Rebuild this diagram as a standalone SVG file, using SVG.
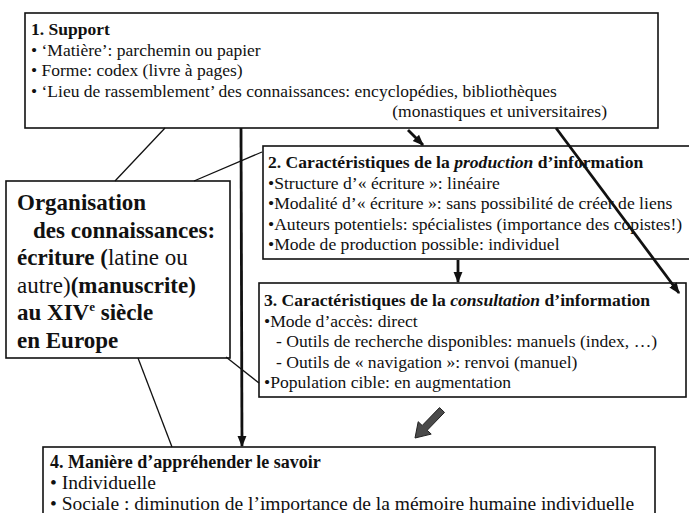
<svg xmlns="http://www.w3.org/2000/svg" width="689" height="513" viewBox="0 0 689 513">
<defs>
<style>
.box{fill:#fff;stroke:#111;stroke-width:1.6}
.t{font-family:"Liberation Serif","Times New Roman",serif;fill:#111}
.s17{font-size:17.5px}
.s16{font-size:17.6px}
.s18{font-size:19.5px}
.big{font-size:23px}
.b{font-weight:bold}
.n{font-weight:normal}
.thin{stroke:#111;stroke-width:1.3;fill:none}
.thick{stroke:#111;stroke-width:2.8;fill:none}
</style>
<marker id="ah" viewBox="0 0 10 10" refX="9" refY="5" markerWidth="4" markerHeight="4" orient="auto" markerUnits="strokeWidth">
<path d="M0,1 L10,5 L0,9 z" fill="#111"/>
</marker>
</defs>
<rect width="689" height="513" fill="#fff"/>

<g id="node1">
<rect class="box" x="25" y="13" width="633" height="115"/>
<text class="t s17 b" x="31" y="35">1. Support</text>
<text class="t s17" x="31" y="55.5">• ‘Matière’: parchemin ou papier</text>
<text class="t s17" x="31" y="76">•  Forme: codex (livre à pages)</text>
<text class="t s17" x="31" y="96.5">• ‘Lieu de rassemblement’ des connaissances: encyclopédies, bibliothèques</text>
<text class="t s17" x="607" y="117" text-anchor="end">(monastiques et universitaires)</text>
</g>

<g id="node-left">
<rect class="box" x="6" y="181" width="224" height="177"/>
<text class="t big b" x="17" y="210">Organisation</text>
<text class="t big b" x="33" y="237.5">des connaissances:</text>
<text class="t big b" x="17" y="265">écriture (<tspan class="n">latine ou</tspan></text>
<text class="t big" x="17" y="292.5">autre)<tspan class="b">(manuscrite)</tspan></text>
<text class="t big b" x="17" y="320">au XIV<tspan font-size="13" dy="-9">e</tspan><tspan dy="9"> siècle</tspan></text>
<text class="t big b" x="17" y="347.5">en Europe</text>
</g>

<g id="node2">
<rect class="box" x="263" y="146" width="430" height="113"/>
<text class="t s16 b" x="268" y="168">2. Caractéristiques de la <tspan font-style="italic">production</tspan> d’information</text>
<text class="t s16" x="268" y="188.5">•Structure d’« écriture »: linéaire</text>
<text class="t s16" x="268" y="209">•Modalité d’« écriture »: sans possibilité de créer de liens</text>
<text class="t s16" x="268" y="229.5">•Auteurs potentiels: spécialistes (importance des copistes!)</text>
<text class="t s16" x="268" y="250">•Mode de production possible: individuel</text>
</g>

<g id="node3">
<rect class="box" x="259" y="283" width="427" height="114"/>
<text class="t s16 b" x="264" y="306">3. Caractéristiques de la <tspan font-style="italic">consultation</tspan> d’information</text>
<text class="t s16" x="264" y="326.5">•Mode d’accès: direct</text>
<text class="t s16" x="276" y="347">- Outils de recherche disponibles: manuels (index, …)</text>
<text class="t s16" x="276" y="367.5">- Outils de « navigation »: renvoi (manuel)</text>
<text class="t s16" x="264" y="388">•Population cible: en augmentation</text>
</g>

<g id="node4">
<rect class="box" x="43" y="447" width="612" height="80"/>
<text class="t b" font-size="18" x="50" y="468">4. Manière d’appréhender le savoir</text>
<text class="t s18" x="50" y="489">• Individuelle</text>
<text class="t s18" x="50" y="510">• Sociale : diminution de l’importance de la mémoire humaine individuelle</text>
</g>

<g id="connectors">
<line class="thin" x1="165" y1="128" x2="115" y2="181"/>
<line class="thin" x1="194" y1="181" x2="262" y2="152"/>
<line class="thin" x1="138" y1="358" x2="172" y2="447"/>
<line class="thin" x1="226" y1="357" x2="259" y2="383"/>
<line class="thick" x1="241" y1="128" x2="242" y2="446" marker-end="url(#ah)"/>
<line class="thick" x1="408" y1="130" x2="423" y2="145" marker-end="url(#ah)"/>
<line class="thick" x1="458" y1="260" x2="458" y2="282" marker-end="url(#ah)"/>
<line class="thick" x1="556" y1="128" x2="679" y2="293" stroke-width="2.4" marker-end="url(#ah)"/>
<polygon points="439.5,407.6 444.5,412.4 427.2,430.3 431.2,434.1 415,438 418.2,421.7 422.2,425.5" fill="#4a4a4a" stroke="#222" stroke-width="1"/>
</g>
</svg>
